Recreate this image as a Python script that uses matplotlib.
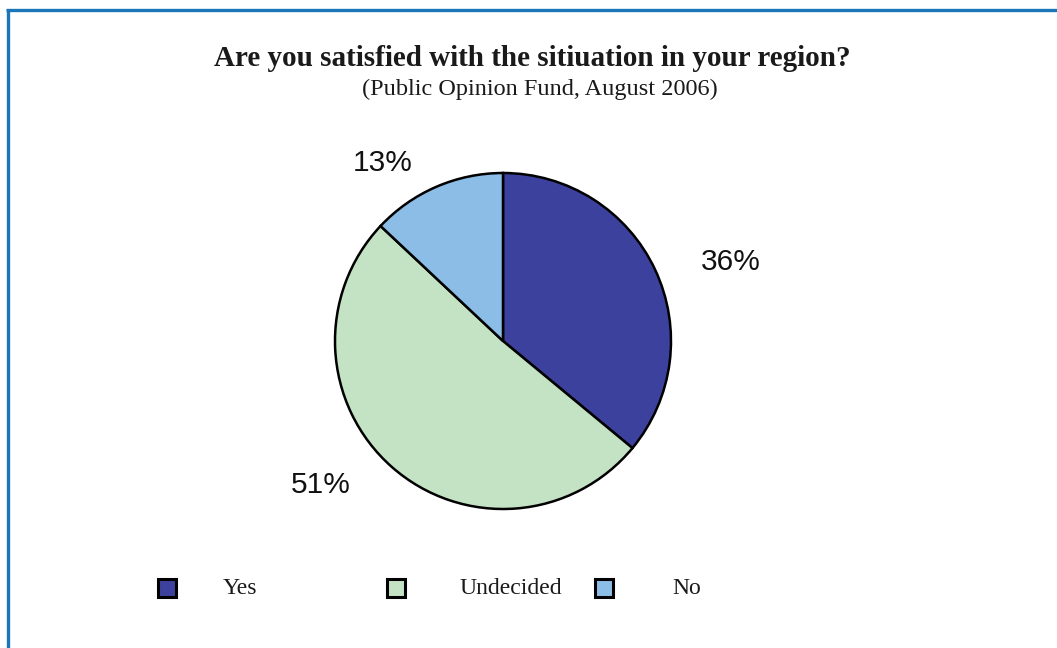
import matplotlib
matplotlib.use("Agg")
import matplotlib.pyplot as plt
from matplotlib.lines import Line2D
from matplotlib.patches import Rectangle

# ---- data ----
categories = ["Yes", "Undecided", "No"]
values = [36, 51, 13]
colors = ["#3d419e", "#c4e3c4", "#8cbde6"]
title = "Are you satisfied with the sitiuation in your region?"
subtitle = "(Public Opinion Fund, August 2006)"

W, H = 1057, 648
fig = plt.figure(figsize=(W / 100, H / 100), dpi=100)
fig.patch.set_facecolor("white")

# frame (left + top blue border)
border = "#1b76b8"
fig.add_artist(Line2D([7.5 / W, 7.5 / W], [0, 1 - 9 / H], transform=fig.transFigure,
                      color=border, lw=2.4, solid_capstyle="butt"))
fig.add_artist(Line2D([6.3 / W, 1], [1 - 9.8 / H, 1 - 9.8 / H], transform=fig.transFigure,
                      color=border, lw=2.4, solid_capstyle="butt"))

# titles
fig.text(532 / W, 1 - 58 / H, title, ha="center", va="center",
         family="Liberation Serif", fontweight="bold", fontsize=21, color="#1a1a1a")
fig.text(540 / W, 1 - 89 / H, subtitle, ha="center", va="center",
         family="Liberation Serif", fontsize=17.5, color="#1a1a1a")

# pie
cx, cy, r = 503, 341, 168
ax = fig.add_axes([(cx - r) / W, (H - cy - r) / H, 2 * r / W, 2 * r / H])
wedges, _ = ax.pie(values, colors=colors, startangle=90, counterclock=False,
                   wedgeprops=dict(edgecolor="black", linewidth=1.8))
ax.set_xlim(-1, 1)
ax.set_ylim(-1, 1)
ax.set_aspect("equal")
ax.axis("off")

# percentage labels (pixel positions of label centers)
label_px = [(731, 262), (321, 485), (383, 163)]
for v, (px, py) in zip(values, label_px):
    fig.text(px / W, 1 - py / H, f"{v}%", ha="center", va="center",
             family="Liberation Sans", fontsize=21.5, color="#111111")

# legend
leg_sq_x = [167, 396, 604]
leg_txt_x = [223, 459, 672]
leg_y = 588
sq = 18
for cat, col, sx, tx in zip(categories, colors, leg_sq_x, leg_txt_x):
    fig.add_artist(Rectangle(((sx - sq / 2) / W, 1 - (leg_y + sq / 2) / H), sq / W, sq / H,
                             transform=fig.transFigure, facecolor=col,
                             edgecolor="black", linewidth=2.2))
    fig.text(tx / W, 1 - (leg_y + 1) / H, cat, ha="left", va="center",
             family="Liberation Serif", fontsize=17, color="#1a1a1a")

fig.savefig("out.png", dpi=100)
